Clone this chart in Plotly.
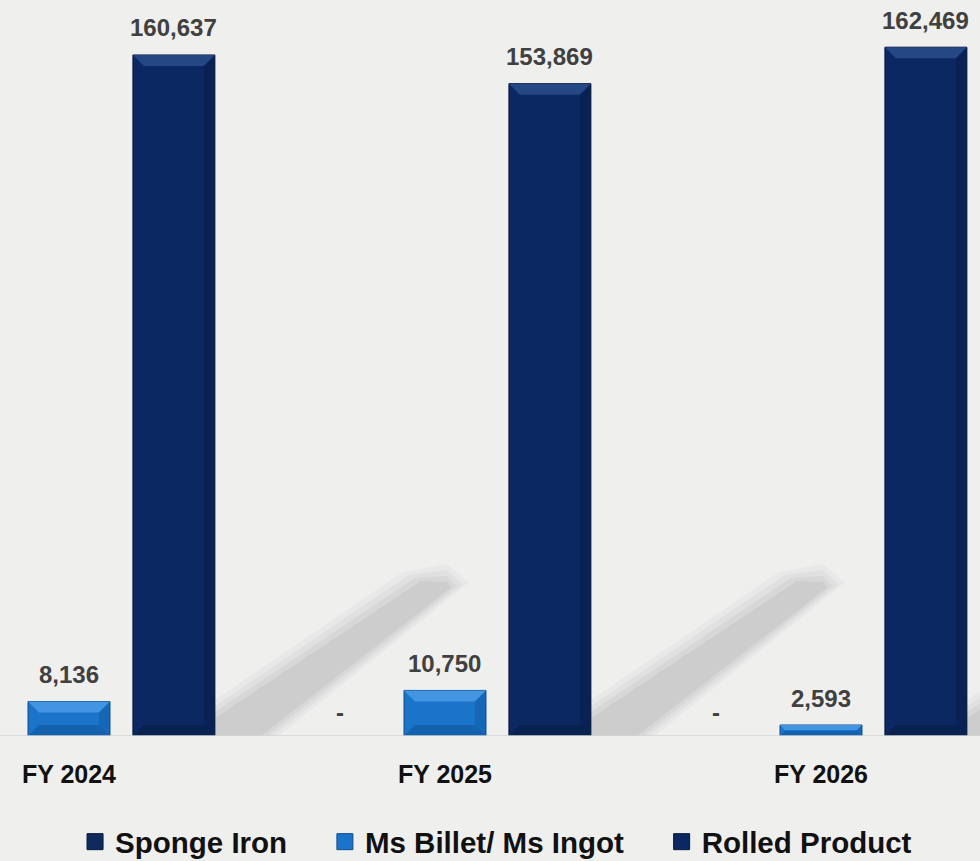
import plotly.graph_objects as go

categories = ["FY 2024", "FY 2025", "FY 2026"]
series_names = ["Sponge Iron", "Ms Billet/ Ms Ingot", "Rolled Product"]
sponge_iron = [0, 0, 0]
ms_billet = [8136, 10750, 2593]
rolled_product = [160637, 153869, 162469]

colors = ["#0E2A5E", "#1B74C9", "#0B2862"]
light = ["#2A4C8A", "#4A9BE6", "#2A4C8A"]
dark = ["#061838", "#0E4C8E", "#061838"]
offsets = [-0.279, 0.0, 0.279]
bar_width = 0.218
PX_X = 376.0        # pixels per category unit (for decorative sizes)
PX_Y = 0.00424      # pixels per value unit

FONT = "Liberation Sans, Arial, sans-serif"
fig = go.Figure()
all_series = [sponge_iron, ms_billet, rolled_product]
xs_idx = list(range(len(categories)))

# soft diagonal shadows behind the tall bars (decorative)
for i in xs_idx:
    bx = i + offsets[2] + bar_width / 2
    def P(px, py):
        return f"{bx + px / PX_X},{py / PX_Y}"
    for grow, op in [(12, 0.06), (6, 0.08), (0, 0.10), (-6, 0.12)]:
        g = grow
        path = ("M " + P(0, 0) + " L " + P(52 + g, 0) + " L " + P(242 + g, 150 + g * 0.3)
                + " L " + P(232, 160 + g) + " L " + P(200 - g, 158 + g * 0.5)
                + " L " + P(0, 24 + g) + " Z")
        fig.add_shape(type="path", path=path, xref="x", yref="y",
                      fillcolor="#8E8E8E", opacity=op, line_width=0, layer="below")

for k, (name, vals, col, off) in enumerate(zip(series_names, all_series, colors, offsets)):
    fig.add_trace(go.Bar(
        x=[i + off for i in xs_idx], y=vals, name=name, width=bar_width,
        marker=dict(color=col, line=dict(color=dark[k], width=1 if k else 0)),
        hoverinfo="skip", showlegend=False, legendgroup=name,
    ))
    # legend entry with a larger square swatch
    fig.add_trace(go.Scatter(
        x=[None], y=[None], mode="markers", name=name + "\u00a0" * 4, legendgroup=name,
        marker=dict(symbol="square", size=16, color=col,
                    line=dict(color=dark[k], width=1)),
    ))
    for i, v in zip(xs_idx, vals):
        fig.add_annotation(
            x=i + off, y=v, text=f"{v:,}" if v else "-", showarrow=False,
            yanchor="middle", yshift=27 if v else 24,
            font=dict(family=FONT, size=24, color="#404040", weight="bold"),
        )
        if v:
            # bevel effect: lighter top band, darker bottom band
            x0, x1 = i + off - bar_width / 2, i + off + bar_width / 2
            bpx = min(11, v * PX_Y / 2.2)
            dx, dy = bpx / PX_X, bpx / PX_Y
            fig.add_shape(type="path", xref="x", yref="y", line_width=0,
                          fillcolor=light[k], opacity=0.85, layer="above",
                          path=f"M {x0},{v} L {x1},{v} L {x1-dx},{v-dy} L {x0+dx},{v-dy} Z")
            fig.add_shape(type="path", xref="x", yref="y", line_width=0,
                          fillcolor=dark[k], opacity=0.45, layer="above",
                          path=f"M {x0},0 L {x1},0 L {x1-dx},{dy} L {x0+dx},{dy} Z")
            fig.add_shape(type="path", xref="x", yref="y", line_width=0,
                          fillcolor=dark[k], opacity=0.3, layer="above",
                          path=f"M {x1},0 L {x1},{v} L {x1-dx},{v-dy} L {x1-dx},{dy} Z")

fig.update_layout(
    width=980, height=861,
    margin=dict(l=0, r=0, t=0, b=125, autoexpand=False),
    paper_bgcolor="#EFEFEE", plot_bgcolor="#EFEFEE",
    barmode="overlay",
    showlegend=True,
    legend=dict(orientation="h", x=0.523, xanchor="center", y=-0.144, yanchor="middle",
                font=dict(family=FONT, size=29.5, color="#111111", weight="bold"),
                itemwidth=30, bgcolor="rgba(0,0,0,0)"),
    xaxis=dict(range=[-0.1835, 2.4229], tickvals=xs_idx, ticktext=categories,
               showgrid=False, zeroline=False, showline=False,
               ticks="", ticklabelstandoff=21,
               tickfont=dict(family=FONT, size=25, color="#111111", weight="bold")),
    yaxis=dict(range=[0, 173600], visible=False, showgrid=False, zeroline=False),
)
fig.add_shape(type="line", xref="paper", yref="y", x0=0, x1=1, y0=0, y1=0,
              line=dict(color="#D4D4D4", width=1.5), layer="above")

fig.write_html("out.html")
